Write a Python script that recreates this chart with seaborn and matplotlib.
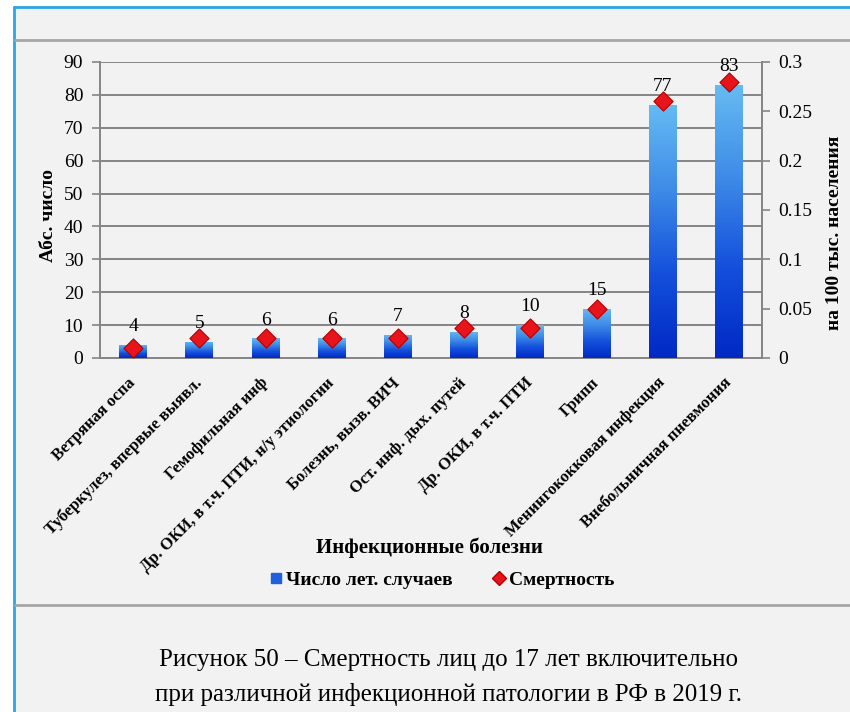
import numpy as np
import pandas as pd
import matplotlib
matplotlib.use("Agg")
import matplotlib.pyplot as plt
import matplotlib.transforms as mtransforms
import seaborn as sns
from matplotlib.patches import Rectangle
from matplotlib.lines import Line2D
from matplotlib.colors import LinearSegmentedColormap
from matplotlib.ticker import FixedLocator, FuncFormatter

# Infectious diseases, children up to 17 years, Russia 2019
diseases = [
    "Ветряная оспа",
    "Туберкулез, впервые выявл.",
    "Гемофильная инф",
    "Др. ОКИ, в т.ч. ПТИ, н/у этиологии",
    "Болезнь, вызв. ВИЧ",
    "Ост. инф. дых. путей",
    "Др. ОКИ, в т.ч. ПТИ",
    "Грипп",
    "Менингококковая инфекция",
    "Внебольничная пневмония",
]
deaths = [4, 5, 6, 6, 7, 8, 10, 15, 77, 83]
mortality = [0.01, 0.02, 0.02, 0.02, 0.02, 0.03, 0.03, 0.05, 0.26, 0.28]
left_ticks = [0, 10, 20, 30, 40, 50, 60, 70, 80, 90]
right_ticks = [0, 0.05, 0.1, 0.15, 0.2, 0.25, 0.3]

df = pd.DataFrame({"disease": diseases, "deaths": deaths, "mortality": mortality})

sns.set_theme(style="white")
plt.rcParams["font.family"] = ["Liberation Serif", "DejaVu Serif"]

W, H = 850, 712
txt = "#000000"
fig = plt.figure(figsize=(W / 100, H / 100), dpi=100, facecolor="white")

# page frame
bg = "#f2f2f2"
fig.patches.append(Rectangle((14 / W, 0), 1 - 14 / W, 1 - 7 / H, transform=fig.transFigure,
                             facecolor=bg, edgecolor="none", zorder=-5))
fig.add_artist(Line2D([14 / W, 1], [1 - 7 / H, 1 - 7 / H], transform=fig.transFigure,
                      color="#2aa6e6", lw=2))
fig.add_artist(Line2D([14 / W, 14 / W], [0, 1 - 7 / H], transform=fig.transFigure,
                      color="#2aa6e6", lw=2))
for yy in (40, 605):
    fig.add_artist(Line2D([15 / W, 1], [1 - yy / H, 1 - yy / H], transform=fig.transFigure,
                          color="#a6a6a6", lw=2))

ax = fig.add_axes([100 / W, 1 - 358 / H, 662 / W, 296 / H])
ax.set_facecolor(bg)

sns.barplot(data=df, x="disease", y="deaths", ax=ax, width=0.42, color="#2a6fe0",
            saturation=1, zorder=3)

ax.set_xlim(-0.5, len(diseases) - 0.5)
ax.set_ylim(0, 90)

# vertical gradient inside every bar
cmap = LinearSegmentedColormap.from_list("barfill", ["#0029c4", "#1450dc", "#3e8ce8", "#66bbf2"])
grad = np.linspace(0, 1, 256).reshape(-1, 1)
for p in list(ax.patches):
    x0, y0 = p.get_x(), p.get_y()
    w, h = p.get_width(), p.get_height()
    im = ax.imshow(grad, extent=[x0, x0 + w, y0, y0 + h], origin="lower", aspect="auto",
                   cmap=cmap, zorder=3, interpolation="bilinear")
    im.set_clip_path(p)
    p.set_facecolor("none")
    p.set_edgecolor("none")
ax.set_xlim(-0.5, len(diseases) - 0.5)
ax.set_ylim(0, 90)
ax.set_aspect("auto")

# value labels above bars
for i, v in enumerate(deaths):
    ax.annotate(str(v), (i, v), xytext=(0, 7), textcoords="offset points",
                ha="center", va="bottom", fontsize=14, color=txt, zorder=6)

grid_c = "#858585"
ax.yaxis.set_major_locator(FixedLocator(left_ticks))
ax.grid(axis="y", color=grid_c, lw=1.4, zorder=0)
ax.grid(axis="x", visible=False)
for s in ("top", "right"):
    ax.spines[s].set_visible(False)
for s in ("left", "bottom"):
    ax.spines[s].set_color(grid_c)
    ax.spines[s].set_linewidth(1.4)

ax.tick_params(axis="y", which="major", direction="out", length=6, width=1.2, color=grid_c,
               labelsize=14, pad=6, labelcolor=txt)
ax.set_xticks(range(len(diseases)))
ax.set_xticklabels(diseases, rotation=45, ha="right", va="top", rotation_mode="anchor",
                   fontsize=12, fontweight="bold", color=txt)
ax.tick_params(axis="x", which="major", length=0, pad=12)
shift = mtransforms.ScaledTranslation(-4 / 72, 0, fig.dpi_scale_trans)
for lbl in ax.get_xticklabels():
    lbl.set_transform(lbl.get_transform() + shift)
ax.set_xticks(np.arange(0.5, len(diseases) - 0.5, 1), minor=True)
ax.tick_params(axis="x", which="minor", direction="out", length=5, width=1.2, color=grid_c)

ax.set_xlabel("Инфекционные болезни", fontsize=15, fontweight="bold", color=txt, va="center")
ax.xaxis.set_label_coords(0.498, -0.642)
ax.set_ylabel("Абс. число", fontsize=14, fontweight="bold", color=txt)
ax.yaxis.set_label_coords(-0.065, 0.48)

# mortality on secondary axis
ax2 = ax.twinx()
ax2.set_ylim(0, 0.3)
sns.scatterplot(x=np.arange(len(diseases)), y=mortality, ax=ax2, marker="D", s=95,
                color="#e8141c", edgecolor="#b00000", linewidth=0.8, zorder=7, legend=False)
ax2.set_ylim(0, 0.3)
ax2.yaxis.set_major_locator(FixedLocator(right_ticks))
ax2.yaxis.set_major_formatter(FuncFormatter(lambda v, _: f"{v:g}"))
ax2.grid(False)
for s in ("top", "left", "bottom"):
    ax2.spines[s].set_visible(False)
ax2.spines["right"].set_color(grid_c)
ax2.spines["right"].set_linewidth(1.4)
ax2.tick_params(axis="y", direction="out", length=6, width=1.2, color=grid_c,
                labelsize=14, pad=6, labelcolor=txt)
ax2.set_ylabel("на 100 тыс. населения", fontsize=14, fontweight="bold", color=txt,
               rotation=90)
ax2.yaxis.set_label_coords(1.097, 0.424)

# legend
handles = [
    Line2D([], [], marker="s", linestyle="none", markersize=7, markerfacecolor="#1f5fe0",
           markeredgecolor="#1f5fe0"),
    Line2D([], [], marker="D", linestyle="none", markersize=7, markerfacecolor="#e8141c",
           markeredgecolor="#b00000"),
]
fig.legend(handles, ["Число лет. случаев", "Смертность"], loc="center",
           bbox_to_anchor=(441 / W, 1 - 580 / H), ncol=2, frameon=False,
           prop={"size": 14, "weight": "bold"}, handletextpad=0.1, columnspacing=2.0,
           handlelength=0.8, labelcolor=txt)

# figure caption
fig.text(448 / W, 1 - 660 / H, "Рисунок 50 – Смертность лиц до 17 лет включительно",
         ha="center", va="center", fontsize=18, color=txt)
fig.text(448 / W, 1 - 695 / H, "при различной инфекционной патологии в РФ в 2019 г.",
         ha="center", va="center", fontsize=18, color=txt)

fig.savefig("out.png", dpi=100, facecolor=fig.get_facecolor())
